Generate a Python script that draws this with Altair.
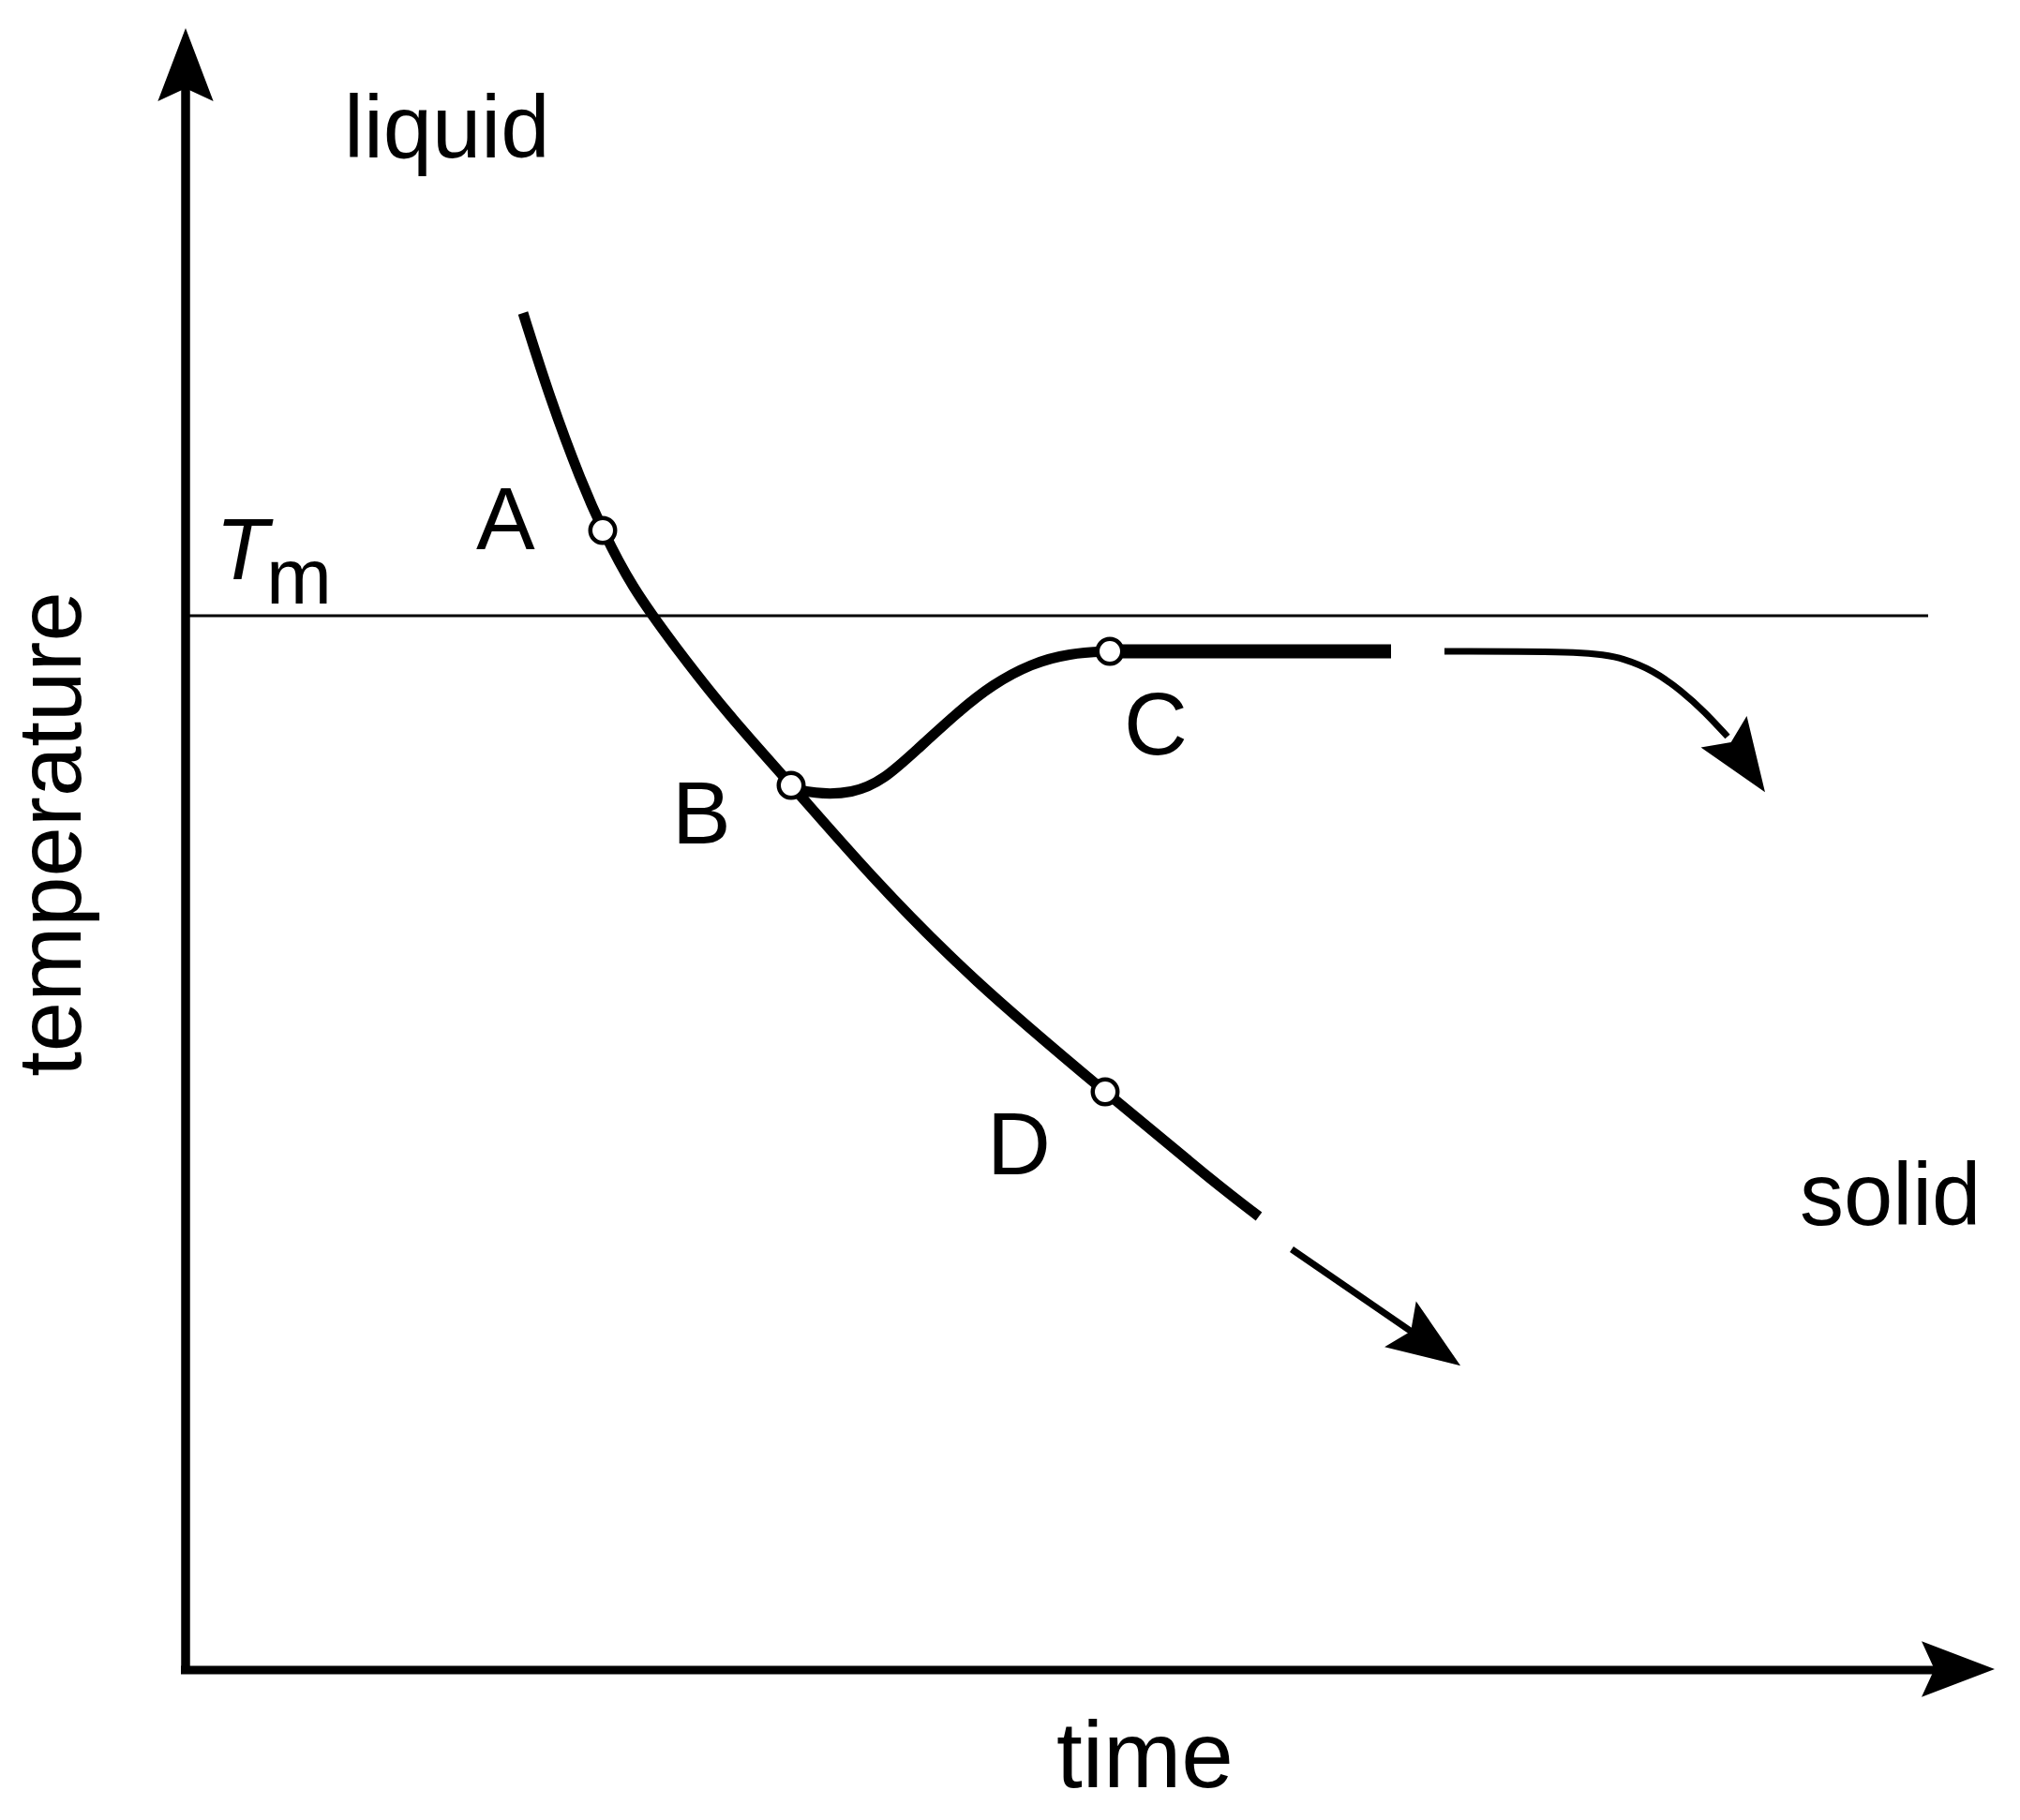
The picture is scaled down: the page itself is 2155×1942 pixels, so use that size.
import altair as alt
import pandas as pd

# ---- values (time, temperature in drawing units) ----
main_t = [360, 389, 422, 445, 475, 522, 579, 646, 728, 839, 981, 1099, 1145]
main_T = [1448, 1356, 1268, 1216, 1157, 1092, 1019, 945, 850, 736, 617, 519, 484]

tail_t = [1180, 1327]
tail_T = [449, 348]

branch_t = [646, 669, 712, 745, 779, 826, 860, 902, 943, 986]
branch_T = [942, 935, 935, 950, 981, 1024, 1051, 1074, 1085, 1087]

plateau_t = [986, 1286]
plateau_T = [1087, 1087]

drop_t = [1343, 1501, 1535, 1565, 1596, 1621, 1645]
drop_T = [1087, 1087, 1079, 1067, 1045, 1022, 996]

tm_value = 1125
tm_t = [0, 1859]

axis_y_T = [-4, 1702]
axis_x_t = [-5, 1872]

arrow_t = [0, 1891, 1328, 1663]
arrow_T = [1713, 1, 347, 969]
arrow_ang = [0, 90, 124.6, 145.7]

pt_labels = ["A", "B", "C", "D"]
pt_t = [445, 646, 986, 981]
pt_T = [1216, 944, 1087, 617]

lab_text = ["A", "B", "C", "D", "liquid", "solid"]
lab_t = [310, 519, 1001, 855, 169, 1722]
lab_T = [1196, 882, 977, 529, 1614, 475]

xs = alt.Scale(domain=[-190, 1949], nice=False, zero=False)
ys = alt.Scale(domain=[-152, 1774], nice=False, zero=False)
X = lambda f="time": alt.X(f"{f}:Q", scale=xs, axis=None)
Y = lambda f="temperature": alt.Y(f"{f}:Q", scale=ys, axis=None)
FONT = "Liberation Sans"


def curve(ts, Ts, width, interp="basis"):
    df = pd.DataFrame({"time": ts, "temperature": Ts, "i": list(range(len(ts)))})
    return alt.Chart(df).mark_line(color="black", strokeWidth=width, interpolate=interp,
                                   strokeCap="butt", strokeJoin="round").encode(
        x=X(), y=Y(), order="i:O")


layers = []

# axes
layers.append(alt.Chart(pd.DataFrame({"time": [0], "t0": [axis_y_T[0]], "t1": [axis_y_T[1]]}))
              .mark_rule(color="black", strokeWidth=9.5)
              .encode(x=X(), y=Y("t0"), y2="t1:Q"))
layers.append(alt.Chart(pd.DataFrame({"temperature": [0], "a": [axis_x_t[0]], "b": [axis_x_t[1]]}))
              .mark_rule(color="black", strokeWidth=9)
              .encode(y=Y(), x=X("a"), x2="b:Q"))
# melting temperature line
layers.append(alt.Chart(pd.DataFrame({"temperature": [tm_value], "a": [tm_t[0]], "b": [tm_t[1]]}))
              .mark_rule(color="black", strokeWidth=2.8)
              .encode(y=Y(), x=X("a"), x2="b:Q"))

# curves
layers.append(curve(main_t, main_T, 11))
layers.append(curve(tail_t, tail_T, 7, "linear"))
layers.append(curve(branch_t, branch_T, 11))
layers.append(curve(plateau_t, plateau_T, 15, "linear"))
layers.append(curve(drop_t, drop_T, 7))

# arrowheads
arrow_df = pd.DataFrame({"time": arrow_t, "temperature": arrow_T, "ang": arrow_ang})
layers.append(alt.Chart(arrow_df).mark_point(
    shape="M0,-1 L0.76,1 L0,0.65 L-0.76,1 Z", filled=True, color="black", size=6084,
    strokeWidth=0, opacity=1).encode(x=X(), y=Y(), angle=alt.Angle("ang:Q", scale=None)))

# hollow state points
pt_df = pd.DataFrame({"time": pt_t, "temperature": pt_T, "name": pt_labels})
layers.append(alt.Chart(pt_df).mark_point(
    shape="circle", size=700, fill="white", fillOpacity=1, stroke="black", strokeWidth=4.5,
    opacity=1).encode(x=X(), y=Y()))

# labels
lab_df = pd.DataFrame({"time": lab_t, "temperature": lab_T, "txt": lab_text})
layers.append(alt.Chart(lab_df).mark_text(
    font=FONT, fontSize=94, align="left", baseline="alphabetic", color="black").encode(
    x=X(), y=Y(), text="txt:N"))

# horizontal axis title
layers.append(alt.Chart(pd.DataFrame({"time": [929], "temperature": [-125], "txt": ["time"]}))
              .mark_text(font=FONT, fontSize=100, align="left", baseline="alphabetic", color="black")
              .encode(x=X(), y=Y(), text="txt:N"))

# T_m
layers.append(alt.Chart(pd.DataFrame({"time": [32], "temperature": [1164], "txt": ["T"]}))
              .mark_text(font=FONT, fontSize=92, fontStyle="italic", align="left",
                         baseline="alphabetic", color="black")
              .encode(x=X(), y=Y(), text="txt:N"))
layers.append(alt.Chart(pd.DataFrame({"time": [86], "temperature": [1138], "txt": ["m"]}))
              .mark_text(font=FONT, fontSize=84, align="left", baseline="alphabetic", color="black")
              .encode(x=X(), y=Y(), text="txt:N"))

# vertical axis title
layers.append(alt.Chart(pd.DataFrame({"time": [-112], "temperature": [892], "txt": ["temperature"]}))
              .mark_text(font=FONT, fontSize=96, angle=270, align="center",
                         baseline="alphabetic", color="black")
              .encode(x=X(), y=Y(), text="txt:N"))

chart = alt.layer(*layers).properties(
    width=2139, height=1926, padding=0,
    autosize=alt.AutoSizeParams(type="none"),
    background="white",
).configure_view(strokeWidth=0)

chart.save("out.html", embed_options={"renderer": "svg", "actions": False})
